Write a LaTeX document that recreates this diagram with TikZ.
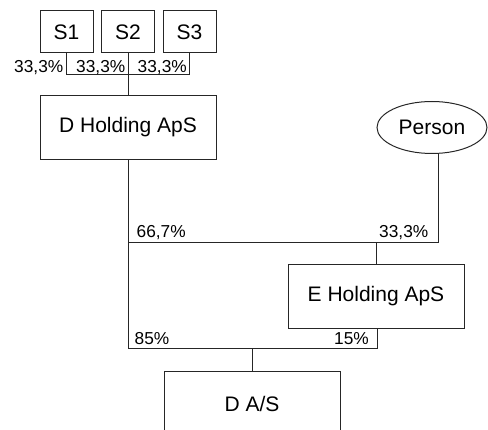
\documentclass[tikz,border=0pt]{standalone}
\usepackage{fontspec}
\setmainfont{Liberation Sans}
\usetikzlibrary{shapes.geometric}
\begin{document}
\begin{tikzpicture}[x=1pt,y=-1pt,
  ln/.style={draw=black!85, line width=1pt},
  boxfont/.style={font=\fontsize{21}{25}\selectfont},
  entity/.style={ln, boxfont, rectangle, minimum width=176pt, minimum height=63.5pt, inner sep=0pt},
  owner/.style={ln, boxfont, rectangle, minimum width=53pt, minimum height=42pt, inner sep=0pt},
  holder/.style={ln, boxfont, ellipse, minimum width=110pt, minimum height=52pt, inner sep=0pt},
  pct/.style={inner sep=0pt, font=\fontsize{17.3}{20}\selectfont}
]
\clip (0,0) rectangle (488,430);

% owners and companies
\node[owner] (s1) at (66.5,32) {S1};
\node[owner] (s2) at (128,32) {S2};
\node[owner] (s3) at (189.5,32) {S3};
\node[entity] (dh) at (128,127.5) {D Holding ApS};
\node[holder] (person) at (432,127.5) {Person};
\node[entity] (eh) at (376,296.5) {E Holding ApS};
\node[entity] (das) at (252,403.5) {D A/S};

% junction points of the ownership lines
\coordinate (busL) at (66.5,75);
\coordinate (busR) at (189.5,75);
\coordinate (ehL) at (128,243);
\coordinate (ehR) at (438,243);
\coordinate (dasL) at (128,349);
\coordinate (dasR) at (377,349);

% ownership lines
\draw[ln] (s1.south) -- (busL) -- (busR) -- (s3.south);
\draw[ln] (s2.south) -- (dh.north);
\draw[ln] (dh.south) -- (dasL) -- (dasR) -- (dasR |- eh.south);
\draw[ln] (ehL) -- (ehR) -- (ehR |- person.south);
\draw[ln] (eh.north) -- (eh.north |- ehL);
\draw[ln] (das.north) -- (das.north |- dasL);

% ownership shares
\node[pct, anchor=base east] (p1) at (63.5,73) {33,3\%};
\node[pct, anchor=base east] (p2) at (125.5,73) {33,3\%};
\node[pct, anchor=base east] (p3) at (187,73) {33,3\%};
\node[pct, anchor=base west] (p4) at (136.5,238) {66,7\%};
\node[pct, anchor=base east] (p5) at (428.5,238) {33,3\%};
\node[pct, anchor=base west] (p6) at (134.5,344.5) {85\%};
\node[pct, anchor=base east] (p7) at (369,345) {15\%};
\end{tikzpicture}
\end{document}
